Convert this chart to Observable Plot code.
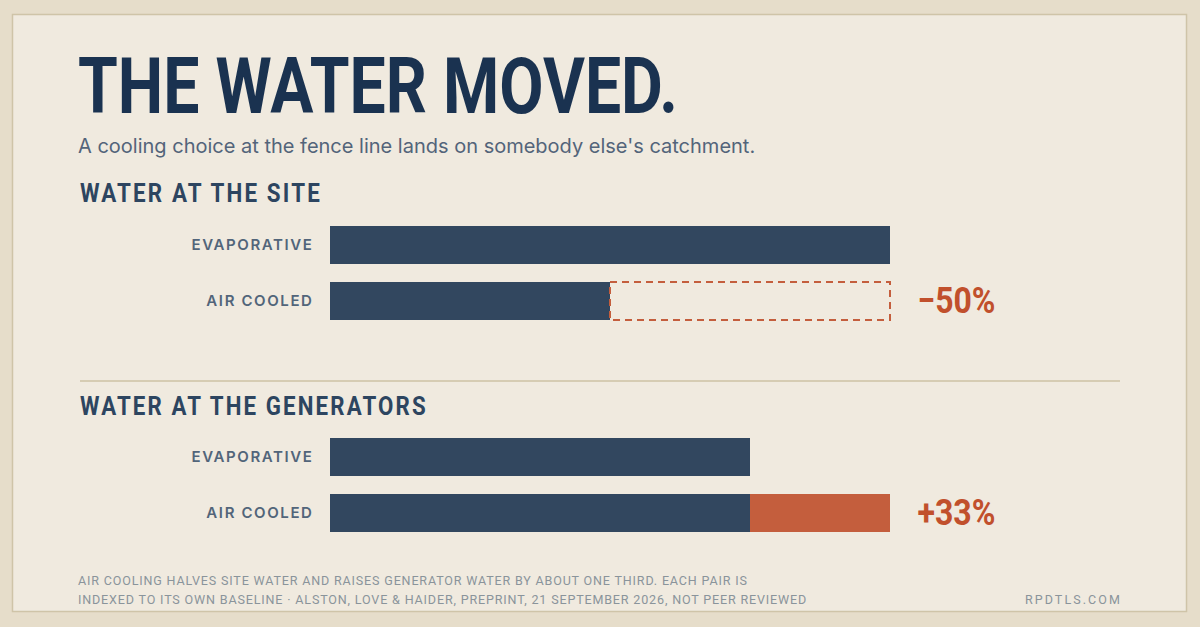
<!DOCTYPE html>
<html><head><meta charset="utf-8">
<script src="https://cdn.jsdelivr.net/npm/d3@7"></script>
<script src="https://cdn.jsdelivr.net/npm/@observablehq/plot@0.6"></script>
<style>
html,body{margin:0;padding:0;width:1200px;height:627px;overflow:hidden;background:#e6ddca;}
#bg{position:absolute;left:0;top:0;}
.plot{position:absolute;left:0;width:1200px;}
.cond{font-family:Roboto,"DejaVu Sans Condensed",sans-serif;}
.inter{font-family:Inter,"Noto Sans",sans-serif;}
</style></head><body>
<script>
// ---- data ----
const titleText = "THE WATER MOVED.";
const subtitleText = "A cooling choice at the fence line lands on somebody else's catchment.";
const sections = ["WATER AT THE SITE", "WATER AT THE GENERATORS"];
const categories = ["EVAPORATIVE", "AIR COOLED"];
const siteValues = [100, 50];
const generatorValues = [75, 100];
const changeLabels = ["−50%", "+33%"];
const footerLines = [
  "AIR COOLING HALVES SITE WATER AND RAISES GENERATOR WATER BY ABOUT ONE THIRD. EACH PAIR IS",
  "INDEXED TO ITS OWN BASELINE · ALSTON, LOVE & HAIDER, PREPRINT, 21 SEPTEMBER 2026, NOT PEER REVIEWED"
];
const siteName = "RPDTLS.COM";

const NAVY = "#32475f";
const ORANGE = "#c45e3d";
const ORANGE_TEXT = "#c1502c";
const COND = 'Roboto,"DejaVu Sans Condensed",sans-serif';
</script>

<svg id="bg" width="1200" height="627" xmlns="http://www.w3.org/2000/svg">
  <rect x="12.5" y="14.5" width="1174" height="597" fill="#f0eadf" stroke="#cfc4a8" stroke-width="1.5"/>
  <text id="title" x="78" y="113" class="cond" font-size="77" font-weight="700" fill="#1a3250" data-w="600"></text>
  <text id="subtitle" x="78" y="153" class="inter" font-size="20" fill="#53647a"></text>
  <text id="h1" x="80" y="202" class="cond" font-size="25" font-weight="700" fill="#2d4560" letter-spacing="2.4" data-w="242"></text>
  <line x1="80" x2="1120" y1="381" y2="381" stroke="#cec2a5" stroke-width="1.5"/>
  <text id="h2" x="80" y="415" class="cond" font-size="25" font-weight="700" fill="#2d4560" letter-spacing="2.4" data-w="348"></text>
  <text id="f1" x="78" y="585" class="cond" font-size="12" fill="#8a949b" letter-spacing="0.8" data-w="670"></text>
  <text id="f2" x="78" y="604" class="cond" font-size="12" fill="#8a949b" letter-spacing="0.8" data-w="730"></text>
  <text id="f3" x="1025" y="604" class="cond" font-size="12" fill="#8a949b" letter-spacing="2" data-w="97"></text>
</svg>
<div id="p1" class="plot" style="top:217px"></div>
<div id="p2" class="plot" style="top:429px"></div>

<script>
document.getElementById("title").textContent = titleText;
document.getElementById("subtitle").textContent = subtitleText;
document.getElementById("h1").textContent = sections[0];
document.getElementById("h2").textContent = sections[1];
document.getElementById("f1").textContent = footerLines[0];
document.getElementById("f2").textContent = footerLines[1];
document.getElementById("f3").textContent = siteName;

// horizontally condense static texts to the reference widths
document.querySelectorAll("#bg text[data-w]").forEach(el => {
  const target = +el.getAttribute("data-w");
  const w = el.getBBox().width;
  const x = +el.getAttribute("x");
  const s = target / w;
  el.setAttribute("transform", `translate(${x},0) scale(${s},1) translate(${-x},0)`);
});

function section(values, changeLabel) {
  const rows = categories.map((c, i) => ({cat: c, value: values[i]}));
  const base = values[0];
  const air = values[1];
  const marks = [
    Plot.barX(rows, {y: "cat", x1: d => 0, x2: d => Math.min(d.value, base), fill: NAVY})
  ];
  if (air < base) {
    marks.push(Plot.barX([{cat: categories[1], a: air, b: base}],
      {y: "cat", x1: "a", x2: "b", fill: "none", stroke: ORANGE, strokeWidth: 2, strokeDasharray: "7,5"}));
  } else {
    marks.push(Plot.barX([{cat: categories[1], a: base, b: air}],
      {y: "cat", x1: "a", x2: "b", fill: ORANGE}));
  }
  marks.push(Plot.text([{cat: categories[1], x: Math.max(air, base), label: changeLabel}],
    {y: "cat", x: "x", text: "label", dx: 27, textAnchor: "start", fontSize: 36.5, fontWeight: 700,
     fontFamily: COND, fill: ORANGE_TEXT, className: "pct"}));
  marks.push(Plot.axisY({tickSize: 0, tickPadding: 17, fontSize: 15, fontWeight: 600,
     fontFamily: "Inter, sans-serif", fill: "#52657a", className: "lbl", label: null}));
  return Plot.plot({
    width: 1200, height: 112,
    marginLeft: 330, marginRight: 310, marginTop: 0, marginBottom: 0,
    x: {domain: [0, 100], axis: null},
    y: {domain: categories, paddingInner: 0.32, paddingOuter: 0.16, axis: null},
    style: {background: "transparent", overflow: "visible"},
    marks
  });
}
document.getElementById("p1").appendChild(section(siteValues, changeLabels[0]));
document.getElementById("p2").appendChild(section(generatorValues, changeLabels[1]));
document.querySelectorAll(".plot .lbl text").forEach(t => t.style.letterSpacing = "1.6px");
document.querySelectorAll(".plot .pct text").forEach(t => {
  const w = t.getBBox().width;
  const s = 78 / w;
  t.setAttribute("transform", (t.getAttribute("transform") || "") + ` scale(${s},1)`);
});
</script>
</body></html>
